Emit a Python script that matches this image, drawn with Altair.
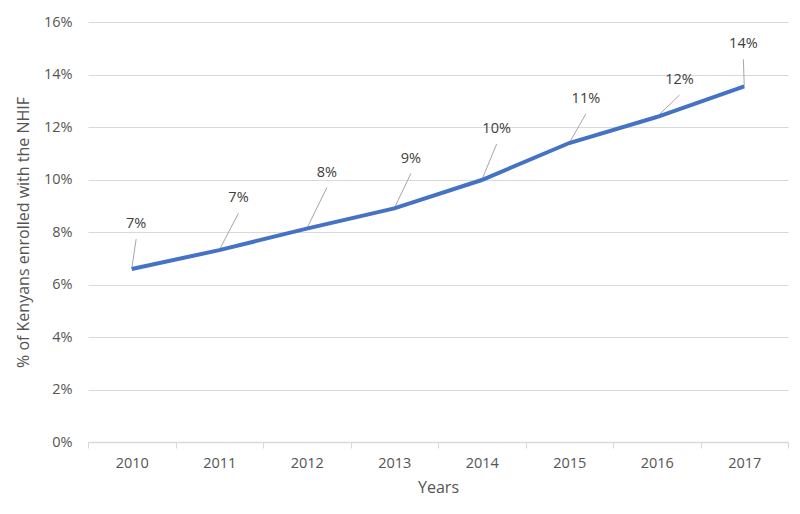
import altair as alt
import pandas as pd

years = [2010, 2011, 2012, 2013, 2014, 2015, 2016, 2017]
values = [6.59, 7.31, 8.13, 8.90, 9.98, 11.39, 12.38, 13.55]
labels = ["7%", "7%", "8%", "9%", "10%", "11%", "12%", "14%"]
# label offsets from the point (x in category units, y in percent points)
label_dx = [0.05, 0.22, 0.23, 0.19, 0.17, 0.19, 0.26, -0.01]
label_dy = [1.71, 1.98, 2.13, 1.90, 1.94, 1.68, 1.41, 1.60]

idx = list(range(len(years)))
df = pd.DataFrame({
    "i": idx,
    "year": years,
    "value": values,
    "label": labels,
    "lx": [i + d for i, d in zip(idx, label_dx)],
    "ly": [v + d for v, d in zip(values, label_dy)],
})
df["ly0"] = df["ly"] - 0.57
df["lx0"] = df["lx"]

FONT = "Open Sans"
GRAY = "#555555"

x = alt.X("i:Q",
          scale=alt.Scale(domain=[-0.5, 7.5], nice=False, zero=False),
          axis=alt.Axis(
              title="Years",
              values=[k - 0.5 for k in range(9)],
              labelExpr="datum.value < 7 ? toString(2010.5 + datum.value) : ''",
              labelOffset=43.75, labelFlush=False, labelOverlap=False,
              grid=False,
              tickSize=6, tickColor="#d9d9d9",
              domainColor="#d9d9d9", domainWidth=1.5,
              labelPadding=8, titlePadding=10,
              labelFontSize=14.5, titleFontSize=16,
              labelColor=GRAY, titleColor=GRAY, labelFontWeight="normal",
              labelFont=FONT, titleFont=FONT, titleFontWeight="normal",
          ))
y = alt.Y("value:Q",
          scale=alt.Scale(domain=[0, 16], nice=False),
          axis=alt.Axis(
              title="% of Kenyans enrolled with the NHIF",
              values=list(range(0, 17, 2)),
              labelExpr="datum.value + '%'",
              tickSize=0, domain=False,
              gridColor="#d9d9d9", gridWidth=1.2,
              labelPadding=16, titlePadding=12,
              labelFontSize=14.5, titleFontSize=16,
              labelColor=GRAY, titleColor=GRAY, labelFontWeight="normal",
              labelFont=FONT, titleFont=FONT, titleFontWeight="normal",
          ))

base = alt.Chart(df)

line = base.mark_line(color="#4472C4", strokeWidth=4).encode(x=x, y=y)

leaders = base.mark_rule(color="#a6a6a6", strokeWidth=1).encode(
    x="i:Q", y="value:Q", x2="lx0:Q", y2="ly0:Q"
)

text = base.mark_text(font=FONT, fontSize=14.5, color="#404040",
                      baseline="middle", align="center").encode(
    x="lx:Q", y="ly:Q", text="label:N"
)

chart = (leaders + line + text).properties(
    width=700, height=420,
    background="white",
    autosize=alt.AutoSizeParams(type="none"),
    padding={"left": 80, "top": 14, "right": 4, "bottom": 60},
).configure_view(stroke=None)

chart.save("out.html", embed_options={"renderer": "svg", "actions": False})
